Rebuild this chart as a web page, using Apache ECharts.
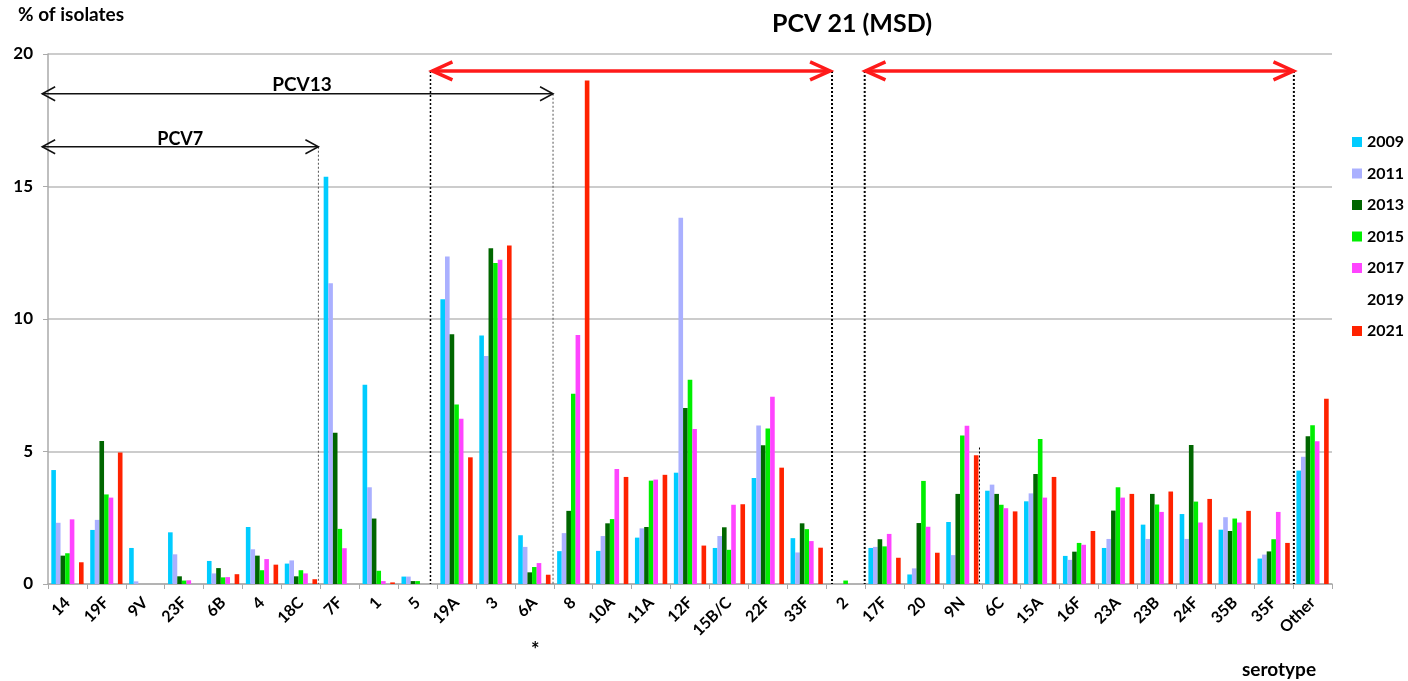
<!DOCTYPE html>
<html>
<head>
<meta charset="utf-8">
<script src="https://cdn.jsdelivr.net/npm/echarts@6/dist/echarts.min.js"></script>
<style>
  html, body { margin: 0; padding: 0; background: #fff; }
  #main { width: 1408px; height: 681px; }
</style>
</head>
<body>
<div id="main"></div>
<script>
// serotypes on the x axis
var categories = ['14','19F','9V','23F','6B','4','18C','7F','1','5','19A','3','6A','8','10A','11A','12F','15B/C','22F','33F','2','17F','20','9N','6C','15A','16F','23A','23B','24F','35B','35F','Other'];
var years = ['2009','2011','2013','2015','2017','2019','2021'];
var yTicks = [0, 5, 10, 15, 20];

// % of isolates per year
var y2009 = [4.30, 2.04, 1.36, 1.95, 0.87, 2.15, 0.77, 15.37, 7.52, 0.28, 10.75, 9.38, 1.84, 1.24, 1.25, 1.75, 4.20, 1.36, 4.00, 1.73, 0, 1.36, 0.36, 2.34, 3.52, 3.12, 1.06, 1.36, 2.24, 2.64, 2.05, 0.96, 4.28];
var y2011 = [2.31, 2.42, 0.10, 1.12, 0.40, 1.31, 0.89, 11.35, 3.65, 0.28, 12.36, 8.60, 1.40, 1.92, 1.81, 2.10, 13.82, 1.81, 5.98, 1.19, 0, 1.40, 0.59, 1.09, 3.75, 3.42, 0.91, 1.70, 1.70, 1.70, 2.52, 1.11, 4.80];
var y2013 = [1.07, 5.40, 0, 0.29, 0.60, 1.07, 0.29, 5.71, 2.47, 0.11, 9.42, 12.67, 0.44, 2.76, 2.29, 2.15, 6.64, 2.14, 5.24, 2.29, 0, 1.69, 2.30, 3.40, 3.40, 4.15, 1.22, 2.77, 3.40, 5.25, 2.00, 1.23, 5.58];
var y2015 = [1.16, 3.38, 0, 0.13, 0.25, 0.52, 0.52, 2.08, 0.50, 0.11, 6.77, 12.11, 0.64, 7.18, 2.45, 3.90, 7.71, 1.29, 5.87, 2.07, 0.13, 1.42, 3.89, 5.60, 2.99, 5.47, 1.55, 3.65, 3.00, 3.11, 2.47, 1.69, 5.99];
var y2017 = [2.44, 3.26, 0, 0.14, 0.26, 0.94, 0.40, 1.35, 0.11, 0, 6.24, 12.24, 0.79, 9.40, 4.34, 3.94, 5.85, 2.99, 7.07, 1.62, 0, 1.89, 2.16, 5.97, 2.86, 3.26, 1.48, 3.26, 2.72, 2.32, 2.32, 2.72, 5.39];
var y2019 = [];  // drawn in white in the original, nothing readable
var y2021 = [0.82, 4.96, 0, 0, 0.37, 0.73, 0.18, 0, 0.06, 0, 4.78, 12.77, 0.35, 19.0, 4.04, 4.12, 1.45, 3.01, 4.39, 1.37, 0, 0.99, 1.18, 4.86, 2.74, 4.04, 2.00, 3.40, 3.49, 3.21, 2.76, 1.55, 6.99];

var seriesData = [y2009, y2011, y2013, y2015, y2017, y2019, y2021];
var colors = ['#00ccff', '#aab0ff', '#006600', '#00ee00', '#ff44ff', '#ffffff', '#ff2200'];

var FONT = 'Lato, "Open Sans", sans-serif';

var myChart = echarts.init(document.getElementById('main'));

var series = years.map(function (y, i) {
    return {
        name: y,
        type: 'bar',
        data: seriesData[i],
        barGap: '0%',
        barCategoryGap: '17%',
        itemStyle: { color: colors[i] },
        silent: true
    };
});

var option = {
    animation: false,
    backgroundColor: '#fff',
    grid: { left: 48, right: 76, top: 54, bottom: 97 },
    legend: {
        orient: 'vertical',
        left: 1352,
        top: 134,
        padding: 0,
        itemWidth: 10,
        itemHeight: 10,
        itemGap: 15.5,
        icon: 'rect',
        data: years,
        textStyle: { fontFamily: FONT, fontWeight: 'bold', fontSize: 16, color: '#000', lineHeight: 16 }
    },
    xAxis: {
        type: 'category',
        data: categories,
        axisLine: { lineStyle: { color: '#aaa', width: 1.5 } },
        axisTick: { show: true, length: 5, lineStyle: { color: '#aaa' } },
        axisLabel: {
            interval: 0,
            rotate: 45,
            margin: 16,
            fontFamily: FONT,
            fontWeight: 'bold',
            fontSize: 16,
            color: '#000'
        }
    },
    yAxis: {
        type: 'value',
        min: 0,
        max: yTicks[yTicks.length - 1],
        interval: 5,
        axisLine: { show: true, lineStyle: { color: '#aaa', width: 1.5 } },
        axisTick: { show: true, length: 5, lineStyle: { color: '#aaa' } },
        splitLine: { lineStyle: { color: '#bbb', width: 1.5 } },
        axisLabel: { margin: 15, fontFamily: FONT, fontWeight: 'bold', fontSize: 17, color: '#000' }
    },
    series: series
};

myChart.setOption(option);

// annotations: placed from the axes
var c0 = myChart.convertToPixel({ xAxisIndex: 0 }, 0);
var bw = myChart.convertToPixel({ xAxisIndex: 0 }, 1) - c0;
var xLeft = c0 - bw / 2;
function bx(b) { return xLeft + b * bw; }
function py(v) { return myChart.convertToPixel({ yAxisIndex: 0 }, v); }

function vline(b, top, color, width, dash) {
    return {
        type: 'line', silent: true, z: 50,
        shape: { x1: bx(b), y1: py(top), x2: bx(b), y2: py(0) },
        style: { stroke: color, lineWidth: width, lineDash: dash }
    };
}

function arrow(b1, b2, v, color, width, hl, hw) {
    var x1 = bx(b1), x2 = bx(b2), y = py(v);
    return [
        { type: 'line', silent: true, z: 60, shape: { x1: x1, y1: y, x2: x2, y2: y }, style: { stroke: color, lineWidth: width } },
        { type: 'polyline', silent: true, z: 60, shape: { points: [[x1 + hl, y - hw], [x1, y], [x1 + hl, y + hw]] }, style: { stroke: color, lineWidth: width, fill: null } },
        { type: 'polyline', silent: true, z: 60, shape: { points: [[x2 - hl, y - hw], [x2, y], [x2 - hl, y + hw]] }, style: { stroke: color, lineWidth: width, fill: null } }
    ];
}

function label(x, y, text, size, align) {
    return {
        type: 'text', silent: true, z: 70, x: x, y: y,
        style: { text: text, fill: '#000', font: 'bold ' + size + 'px ' + FONT, textAlign: align || 'center', textVerticalAlign: 'middle' }
    };
}

var graphics = [
    vline(6.95, 16.5, '#555', 1, [2, 2]),
    vline(9.83, 19.36, '#000', 1.5, [2, 2]),
    vline(12.98, 18.5, '#555', 1, [2, 2]),
    vline(20.15, 19.36, '#000', 2, [2, 2]),
    vline(20.99, 19.36, '#000', 2, [2, 2]),
    vline(32.02, 19.36, '#000', 2, [2, 2]),
    vline(23.94, 5.15, '#000', 1, [2, 2])
];
graphics = graphics
    .concat(arrow(-0.15, 6.95, 16.5, '#111', 1.5, 13, 7))
    .concat(arrow(-0.15, 12.98, 18.5, '#111', 1.5, 13, 7))
    .concat(arrow(9.88, 20.1, 19.36, '#ff1a1a', 3.5, 20, 9))
    .concat(arrow(21.01, 32.01, 19.36, '#ff1a1a', 3.5, 20, 9));

graphics.push(label(bx(3.4), py(16.8), 'PCV7', 18));
graphics.push(label(bx(6.53), py(18.85), 'PCV13', 19));
graphics.push(label(852, 24, 'PCV 21 (MSD)', 25));
graphics.push(label(18, 15, '% of isolates', 19, 'left'));
graphics.push(label(1242, 670, 'serotype', 19, 'left'));
graphics.push(label(bx(12.5) + 1, 651, '*', 20));

myChart.setOption({ graphic: graphics });
</script>
</body>
</html>
